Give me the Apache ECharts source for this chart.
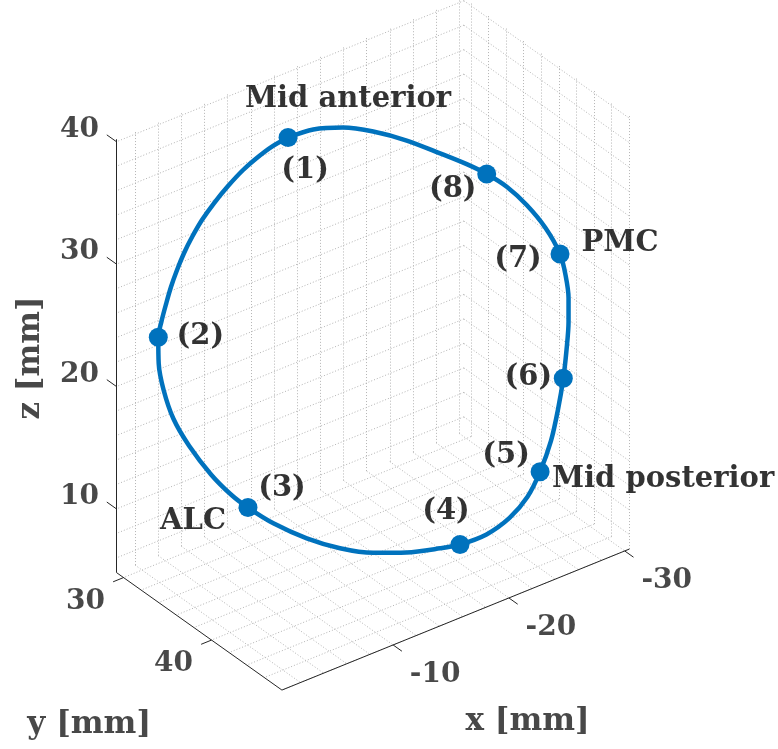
<!DOCTYPE html>
<html><head><meta charset="utf-8">
<script src="https://cdn.jsdelivr.net/npm/echarts@6/dist/echarts.min.js"></script>
<style>html,body{margin:0;padding:0;background:#fff}#c{width:778px;height:749px}</style>
</head><body><div id="c"></div>
<script>
// ---- data: annulus curve (mm), traced from (1) through (8) ----
const curveX = [-10.45,-9.44,-8.57,-7.63,-6.69,-5.82,-5.06,-4.44,-3.94,-3.50,-3.12,-2.81,-2.53,-2.33,-2.35,-2.66,-3.27,-4.25,-5.64,-6.93,-7.94,-9.53,-11.62,-13.70,-15.78,-17.87,-19.96,-21.21,-22.87,-24.31,-25.43,-26.22,-26.90,-27.34,-27.67,-27.87,-28.00,-28.00,-27.81,-27.47,-26.56,-25.38,-24.13,-22.88,-21.63,-19.96,-17.87,-15.78,-13.89,-12.03];
const curveY = [35.47,34.97,34.53,34.07,33.60,33.16,32.78,32.47,32.22,32.00,31.81,31.66,31.52,31.41,31.43,31.58,31.88,32.38,33.07,33.71,34.22,35.01,36.06,37.10,38.14,39.19,40.23,40.85,41.68,42.40,42.97,43.36,43.70,43.92,44.09,44.19,44.25,44.25,44.16,43.98,43.53,42.94,42.32,41.69,41.06,40.23,39.19,38.14,37.19,36.26];
const curveZ = [39.69,39.08,38.34,37.40,36.21,34.93,33.64,32.33,31.09,29.76,28.42,27.07,25.72,24.41,22.28,20.06,17.65,15.31,12.76,10.91,9.78,8.29,6.79,5.71,5.07,4.83,4.90,5.05,5.66,6.82,8.41,10.36,12.78,15.29,17.80,20.09,22.36,24.32,26.22,27.98,30.22,32.25,33.91,35.11,36.07,37.17,38.49,39.49,40.06,40.14];

// marked points (1)..(8)
const markerNames = ['(1)','(2)','(3)','(4)','(5)','(6)','(7)','(8)'];
const markerX = [-10.45,-2.33,-7.94,-21.21,-26.22,-27.67,-27.47,-22.88];
const markerY = [35.47,31.41,34.22,40.85,43.36,44.09,43.98,41.69];
const markerZ = [39.69,24.41,9.78,5.05,10.36,17.80,27.98,35.11];

// landmark names
const landmarkNames = ['Mid anterior','ALC','Mid posterior','PMC'];
const landmarkX = [-10.45,-7.94,-26.22,-27.47];
const landmarkY = [35.47,34.22,43.36,43.98];
const landmarkZ = [39.69,9.78,10.36,27.98];

// axes
const xLim = [-30.4,-0.4], yLim = [29.2,48.0], zLim = [4.8,40.2];
const xTicks = [-30,-20,-10], yTicks = [30,40], zTicks = [10,20,30,40];
const xTickLabels = ['-30','-20','-10'], yTickLabels = ['30','40'], zTickLabels = ['10','20','30','40'];
const minorStep = 2;
const xTitle = 'x [mm]', yTitle = 'y [mm]', zTitle = 'z [mm]';

// ---- view (orthographic camera) ----
function proj(x,y,z){ return [-145.1 - 11.58*x + 8.8*y, 450.7 + 4.7*x + 6.25*y - 12.24*z]; }

// label pixel offsets (style)
const markerLabelOffsets = [[17,33],[42,-1],[34,-19],[-14,-33],[-34,-16],[-35,-1],[-42,5],[-34,15]];
const landmarkLabelOffsets = [[60,-38],[-55,14],[123,8],[60,-11]];

const FONT = 'DejaVu Serif';
const [x0,x1] = xLim, [y0,y1] = yLim, [z0,z1] = zLim;
function range(a,b,s){ const r=[]; for(let v=Math.ceil(a/s)*s; v<=b+1e-9; v+=s) r.push(+v.toFixed(6)); return r; }
const gX = range(x0,x1,minorStep), gY = range(y0,y1,minorStep), gZ = range(z0,z1,minorStep);

const gridSegs = [];
function seg(a,b){ return {coords:[proj(...a), proj(...b)]}; }
gX.forEach(x=>{ gridSegs.push(seg([x,y0,z0],[x,y0,z1])); gridSegs.push(seg([x,y0,z0],[x,y1,z0])); });
gY.forEach(y=>{ gridSegs.push(seg([x0,y,z0],[x0,y,z1])); gridSegs.push(seg([x0,y,z0],[x1,y,z0])); });
gZ.forEach(z=>{ gridSegs.push(seg([x0,y0,z],[x1,y0,z])); gridSegs.push(seg([x0,y0,z],[x0,y1,z])); });

const axisSegs = [
  seg([x1,y0,z0],[x1,y0,z1]),
  seg([x1,y0,z0],[x1,y1,z0]),
  seg([x0,y1,z0],[x1,y1,z0])
];
zTicks.forEach(z=>axisSegs.push(seg([x1,y0,z],[x1,y0-1.1,z])));
yTicks.forEach(y=>axisSegs.push(seg([x1,y,z0],[x1+0.9,y,z0])));
xTicks.forEach(x=>axisSegs.push(seg([x,y1,z0],[x,y1+1.0,z0])));

const curve = curveX.map((x,i)=>proj(x,curveY[i],curveZ[i]));
curve.push(curve[0]);
const markers = markerX.map((x,i)=>proj(x,markerY[i],markerZ[i]));

function textItems(pts, texts, offs){
  return pts.map((p,i)=>({value:p, label:{formatter:texts[i], offset:offs[i]}}));
}
function shifted(p, d){ return [p[0]+d[0], p[1]+d[1]]; }
const tickItems = []
  .concat(textItems(zTicks.map(z=>proj(x1,y0,z)), zTickLabels, zTicks.map(()=>[-37,-12])))
  .concat(textItems(yTicks.map(y=>proj(x1,y,z0)), yTickLabels, yTicks.map(()=>[-38,24])))
  .concat(textItems(xTicks.map(x=>proj(x,y1,z0)), xTickLabels, xTicks.map(()=>[42,30])));
const titleItems = [
  {value:shifted(proj((x0+x1)/2,y1,z0),[72,102]), label:{formatter:xTitle}},
  {value:shifted(proj(x1,(y0+y1)/2,z0),[-110,94]), label:{formatter:yTitle}},
  {value:shifted(proj(x1,y0,(z0+z1)/2),[-86,2]), label:{formatter:zTitle, rotate:90}}
];
const annItems = textItems(markers, markerNames, markerLabelOffsets)
  .concat(textItems(landmarkX.map((x,i)=>proj(x,landmarkY[i],landmarkZ[i])), landmarkNames, landmarkLabelOffsets));

function textSeries(data, size, color){
  return {type:'scatter', data, symbolSize:1, itemStyle:{color:'rgba(0,0,0,0)'}, silent:true, z:10,
    label:{show:true, position:'inside', align:'center', verticalAlign:'middle',
      fontFamily:FONT, fontWeight:'bold', fontSize:size, color}};
}

const chart = echarts.init(document.getElementById('c'), null, {renderer:'canvas'});
chart.setOption({
  animation:false,
  backgroundColor:'#fff',
  grid:{left:0,right:0,top:0,bottom:0},
  xAxis:{type:'value', min:0, max:778, show:false},
  yAxis:{type:'value', min:0, max:749, inverse:true, show:false},
  series:[
    {type:'lines', coordinateSystem:'cartesian2d', data:gridSegs, silent:true, z:1,
      lineStyle:{color:'#b4b4b4', width:1, type:[1,2], opacity:1}},
    {type:'lines', coordinateSystem:'cartesian2d', data:axisSegs, silent:true, z:2,
      lineStyle:{color:'#262626', width:1, opacity:1}},
    {type:'line', data:curve, showSymbol:false, smooth:0.3, z:3, silent:true,
      lineStyle:{color:'#0072BD', width:4.5}},
    {type:'scatter', data:markers, symbolSize:19, z:4, silent:true, itemStyle:{color:'#0072BD', opacity:1}},
    textSeries(tickItems, 28, '#1a1a1a'),
    textSeries(titleItems, 31, '#1a1a1a'),
    textSeries(annItems, 29, '#000')
  ]
});
</script></body></html>
